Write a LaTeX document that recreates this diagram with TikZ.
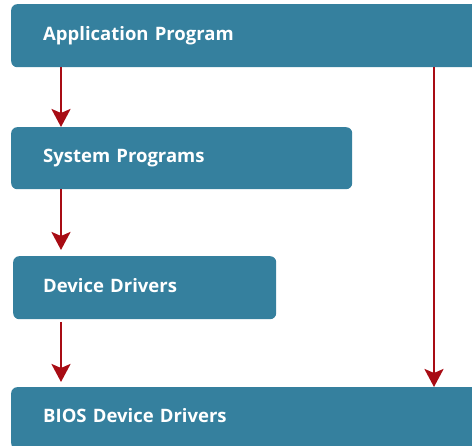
\documentclass[tikz,border=0pt]{standalone}
\usepackage{fontspec}
\setmainfont{Open Sans}
\usetikzlibrary{arrows.meta}

\definecolor{boxblue}{RGB}{53,128,158}
\definecolor{arrowred}{RGB}{168,12,20}

\tikzset{
  layer/.style={rectangle, rounded corners=6pt, fill=boxblue, anchor=north west,
    text=white, font=\bfseries\fontsize{18.5}{22}\selectfont, align=left,
    inner xsep=32pt, inner ysep=0pt, text height=14pt, text depth=5pt},
  flow/.style={draw=arrowred, line width=2.8pt,
    -{Stealth[length=18pt,width=19pt,inset=4pt]}}
}

\begin{document}
\begin{tikzpicture}[x=1pt,y=-1pt]
    \useasboundingbox (0,0) rectangle (472,446);
    \clip (0,0) rectangle (472,446);

    % Layers
    \node[layer, minimum width=480pt, minimum height=63pt, text width=416pt] (app) at (11,4) {Application Program};
    \node[layer, minimum width=341pt, minimum height=62pt, text width=277pt] (sys) at (11,127) {System Programs};
    \node[layer, minimum width=263pt, minimum height=63pt, text width=203pt, inner xsep=30pt] (dev) at (13,256) {Device Drivers};
    \node[layer, minimum width=480pt, minimum height=62pt, text width=416pt] (bios) at (11,387) {BIOS Device Drivers};

    % Arrows
    \coordinate (a1) at (61,67);
    \coordinate (a2) at (61,189);
    \coordinate (a3) at (61,322);
    \coordinate (a4) at (434,67);
    \draw[flow] (a1) -- (a1 |- sys.north);
    \draw[flow, shorten >=6pt] (a2) -- (a2 |- dev.north);
    \draw[flow, shorten >=5pt] (a3) -- (a3 |- bios.north);
    \draw[flow] (a4) -- (a4 |- bios.north);
\end{tikzpicture}
\end{document}
